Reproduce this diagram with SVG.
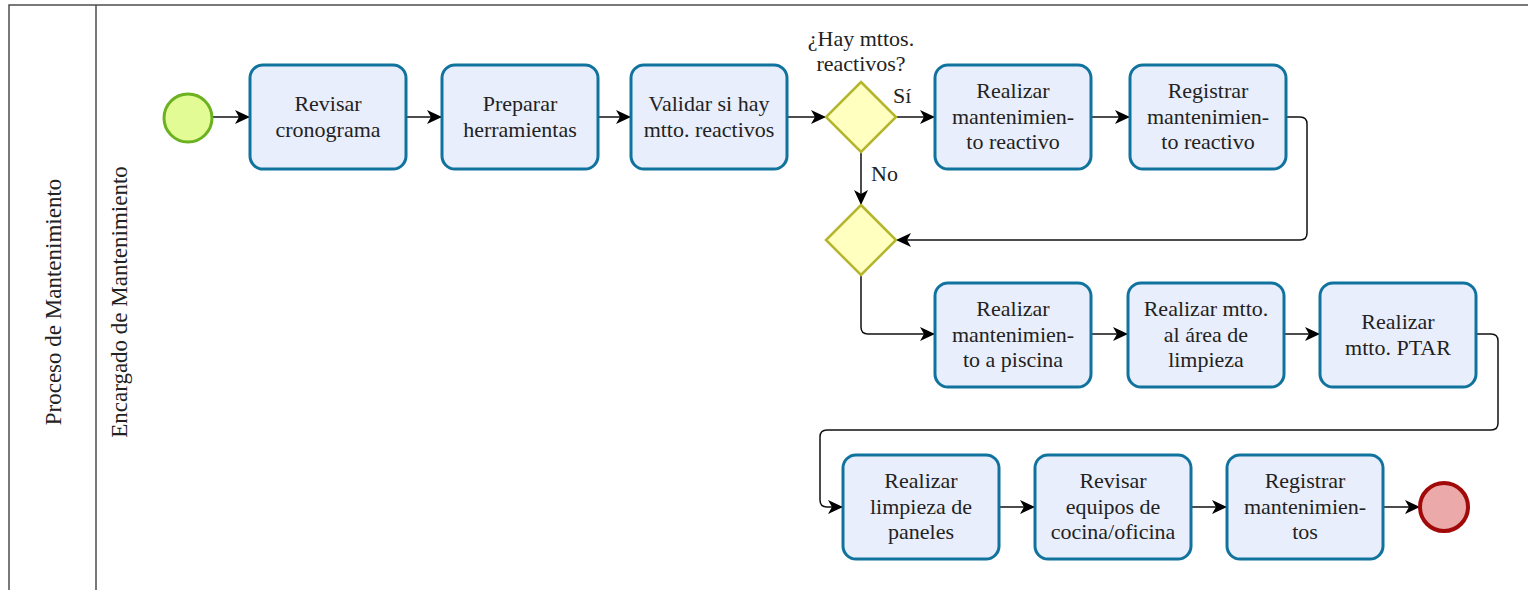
<svg xmlns="http://www.w3.org/2000/svg" width="1528" height="590" viewBox="0 0 1528 590" font-family="'Liberation Serif', 'Times New Roman', serif">
  <style>
    text { font-family: "Liberation Serif", "Times New Roman", serif; fill: #222; }
    .pool { fill: none; stroke: #4d4d4d; stroke-width: 1.5; }
    .lbl { font-size: 22px; }
    .lane { font-size: 23px; text-anchor: middle; }
    .task rect { fill: #e9eefc; stroke: #10739e; stroke-width: 3; }
    .task text { text-anchor: middle; }
    .gw polygon { fill: #ffffc0; stroke: #b5b52c; stroke-width: 2.5; }
    .start circle { fill: #e2fb95; stroke: #6bb120; stroke-width: 3; }
    .end circle { fill: #eba9a9; stroke: #a20a0a; stroke-width: 4; }
    .edges path { fill: none; stroke: #111; stroke-width: 1.5; }
  </style>
  <defs>
    <marker id="arrow" markerUnits="userSpaceOnUse" markerWidth="16" markerHeight="16" refX="15" refY="8" orient="auto">
      <path d="M0,1 L15,8 L0,15 L4,8 Z" fill="#000"/>
    </marker>
  </defs>

  <!-- pool and lane frame -->
  <g id="pool">
    <path class="pool" d="M9,590 V5 H1528"/>
    <path class="pool" d="M96,5 V590"/>
    <text class="lane" font-family="'Liberation Serif', serif" transform="translate(61,302) rotate(-90)">Proceso de Mantenimiento</text>
    <text class="lane" font-family="'Liberation Serif', serif" transform="translate(127,302) rotate(-90)">Encargado de Mantenimiento</text>
  </g>

  <!-- sequence flows -->
  <g id="connectors" class="edges">
    <path d="M213,117 H250" marker-end="url(#arrow)"/>
    <path d="M406,117 H442" marker-end="url(#arrow)"/>
    <path d="M598,117 H631" marker-end="url(#arrow)"/>
    <path d="M787,117 H826" marker-end="url(#arrow)"/>
    <path d="M896,117 H935" marker-end="url(#arrow)"/>
    <path d="M1091,117 H1130" marker-end="url(#arrow)"/>
    <path d="M861,152 V205" marker-end="url(#arrow)"/>
    <path d="M1286,117 H1300 Q1307,117 1307,124 V233 Q1307,240 1300,240 H896" marker-end="url(#arrow)"/>
    <path d="M861,275 V327 Q861,334 868,334 H935" marker-end="url(#arrow)"/>
    <path d="M1091,334 H1128" marker-end="url(#arrow)"/>
    <path d="M1284,334 H1320" marker-end="url(#arrow)"/>
    <path d="M1476,334 H1491 Q1498,334 1498,341 V423 Q1498,430 1491,430 H827 Q820,430 820,437 V500 Q820,507 827,507 H843" marker-end="url(#arrow)"/>
    <path d="M999,507 H1035" marker-end="url(#arrow)"/>
    <path d="M1191,507 H1227" marker-end="url(#arrow)"/>
    <path d="M1383,507 H1420" marker-end="url(#arrow)"/>
    <text class="lbl" font-family="'Liberation Serif', serif" x="893" y="103">Sí</text>
    <text class="lbl" font-family="'Liberation Serif', serif" x="871" y="181">No</text>
  </g>

  <g id="start" class="start"><circle cx="188" cy="118" r="24"/></g>

  <g id="t-revisar-cronograma" class="task" font-family="'Liberation Serif', serif">
    <rect x="250" y="65" width="156" height="104" rx="13"/>
    <text class="lbl"><tspan x="328" y="111">Revisar</tspan><tspan x="328" y="137">cronograma</tspan></text>
  </g>
  <g id="t-preparar-herramientas" class="task" font-family="'Liberation Serif', serif">
    <rect x="442" y="65" width="156" height="104" rx="13"/>
    <text class="lbl"><tspan x="520" y="111">Preparar</tspan><tspan x="520" y="137">herramientas</tspan></text>
  </g>
  <g id="t-validar" class="task" font-family="'Liberation Serif', serif">
    <rect x="631" y="65" width="156" height="104" rx="13"/>
    <text class="lbl"><tspan x="709" y="111">Validar si hay</tspan><tspan x="709" y="137">mtto. reactivos</tspan></text>
  </g>

  <g id="gw-reactivos" class="gw" font-family="'Liberation Serif', serif">
    <polygon points="861,82 896,117 861,152 826,117"/>
    <text class="lbl" text-anchor="middle"><tspan x="861" y="46">¿Hay mttos.</tspan><tspan x="861" y="71">reactivos?</tspan></text>
  </g>

  <g id="t-realizar-reactivo" class="task" font-family="'Liberation Serif', serif">
    <rect x="935" y="65" width="156" height="104" rx="13"/>
    <text class="lbl"><tspan x="1013" y="98">Realizar</tspan><tspan x="1013" y="124">mantenimien-</tspan><tspan x="1013" y="149">to reactivo</tspan></text>
  </g>
  <g id="t-registrar-reactivo" class="task" font-family="'Liberation Serif', serif">
    <rect x="1130" y="65" width="156" height="104" rx="13"/>
    <text class="lbl"><tspan x="1208" y="98">Registrar</tspan><tspan x="1208" y="124">mantenimien-</tspan><tspan x="1208" y="149">to reactivo</tspan></text>
  </g>

  <g id="gw-merge" class="gw">
    <polygon points="861,205 896,240 861,275 826,240"/>
  </g>

  <g id="t-piscina" class="task" font-family="'Liberation Serif', serif">
    <rect x="935" y="283" width="156" height="104" rx="13"/>
    <text class="lbl"><tspan x="1013" y="316">Realizar</tspan><tspan x="1013" y="342">mantenimien-</tspan><tspan x="1013" y="367">to a piscina</tspan></text>
  </g>
  <g id="t-area-limpieza" class="task" font-family="'Liberation Serif', serif">
    <rect x="1128" y="283" width="156" height="104" rx="13"/>
    <text class="lbl"><tspan x="1206" y="316">Realizar mtto.</tspan><tspan x="1206" y="342">al área de</tspan><tspan x="1206" y="367">limpieza</tspan></text>
  </g>
  <g id="t-ptar" class="task" font-family="'Liberation Serif', serif">
    <rect x="1320" y="283" width="156" height="104" rx="13"/>
    <text class="lbl"><tspan x="1398" y="329">Realizar</tspan><tspan x="1398" y="355">mtto. PTAR</tspan></text>
  </g>

  <g id="t-paneles" class="task" font-family="'Liberation Serif', serif">
    <rect x="843" y="455" width="156" height="104" rx="13"/>
    <text class="lbl"><tspan x="921" y="488">Realizar</tspan><tspan x="921" y="514">limpieza de</tspan><tspan x="921" y="539">paneles</tspan></text>
  </g>
  <g id="t-equipos" class="task" font-family="'Liberation Serif', serif">
    <rect x="1035" y="455" width="156" height="104" rx="13"/>
    <text class="lbl"><tspan x="1113" y="488">Revisar</tspan><tspan x="1113" y="514">equipos de</tspan><tspan x="1113" y="539">cocina/oficina</tspan></text>
  </g>
  <g id="t-registrar-mttos" class="task" font-family="'Liberation Serif', serif">
    <rect x="1227" y="455" width="156" height="104" rx="13"/>
    <text class="lbl"><tspan x="1305" y="488">Registrar</tspan><tspan x="1305" y="514">mantenimien-</tspan><tspan x="1305" y="539">tos</tspan></text>
  </g>

  <g id="end" class="end"><circle cx="1444" cy="507" r="24"/></g>
</svg>
